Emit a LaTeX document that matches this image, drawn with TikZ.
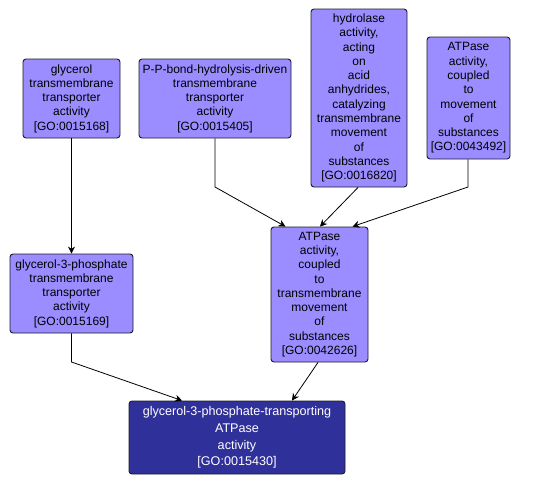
\documentclass[tikz,border=0pt]{standalone}
\usepackage{fontspec}
\setmainfont{Liberation Sans}
\usepackage{xcolor}
\usepackage{tikz}
\usetikzlibrary{arrows.meta,calc}
\definecolor{golight}{HTML}{9B8CFF}
\definecolor{godark}{HTML}{30309A}
\definecolor{goedge}{HTML}{1A1A2E}
\tikzset{
  gobox/.style={draw=goedge, fill=golight, rounded corners=3pt, line width=0.9pt, align=center,
    font=\fontsize{12}{14.3}\selectfont, inner sep=0pt, text=black},
  goboxdark/.style={gobox, fill=godark, text=white, font=\fontsize{12.6}{16.6}\selectfont},
  goarrow/.style={-{Stealth[length=7pt,width=7pt]}, line width=0.8pt, black},
}

\begin{document}
\begin{tikzpicture}[x=1pt, y=-1pt]
  \useasboundingbox (0,0) rectangle (533,485);
  % terms
  \node[gobox, minimum width=97pt, minimum height=79pt] (gtta) at (71.5,98.5)
    {glycerol\\transmembrane\\transporter\\activity\\{[GO:0015168]}};
  \node[gobox, minimum width=152pt, minimum height=79pt] (ppb) at (215,98.5)
    {P-P-bond-hydrolysis-driven\\transmembrane\\transporter\\activity\\{[GO:0015405]}};
  \node[gobox, minimum width=96pt, minimum height=178pt] (hyd) at (359,98)
    {hydrolase\\activity,\\acting\\on\\acid\\anhydrides,\\catalyzing\\transmembrane\\movement\\of\\substances\\{[GO:0016820]}};
  \node[gobox, minimum width=83pt, minimum height=122pt] (atpm) at (468.5,98)
    {ATPase\\activity,\\coupled\\to\\movement\\of\\substances\\{[GO:0043492]}};
  \node[gobox, minimum width=123pt, minimum height=79pt] (g3pt) at (71.5,293.5)
    {glycerol-3-phosphate\\transmembrane\\transporter\\activity\\{[GO:0015169]}};
  \node[gobox, minimum width=97pt, minimum height=135pt] (atpt) at (319.5,294.5)
    {ATPase\\activity,\\coupled\\to\\transmembrane\\movement\\of\\substances\\{[GO:0042626]}};
  \node[goboxdark, minimum width=216pt, minimum height=73pt] (g3pa) at (237,437.5)
    {glycerol-3-phosphate-transporting\\ATPase\\activity\\{[GO:0015430]}};
  % bends
  \coordinate (ppbend) at (215,187);
  \coordinate (atpmbend) at (468,187);
  \coordinate (g3ptbend) at (71.5,362);
  % links
  \draw[goarrow] (gtta.south) -- (g3pt.north);
  \draw[goarrow] (ppb.south) -- (ppbend) -- ([xshift=-34pt]atpt.north);
  \draw[goarrow] ([xshift=-1pt]hyd.south) -- ([xshift=0.5pt]atpt.north);
  \draw[goarrow] ([xshift=-0.5pt]atpm.south) -- (atpmbend) -- ([xshift=33pt]atpt.north);
  \draw[goarrow] (g3pt.south) -- (g3ptbend) -- ([xshift=-55pt]g3pa.north);
  \draw[goarrow] ([xshift=-1.5pt]atpt.south) -- ([xshift=55pt]g3pa.north);
\end{tikzpicture}
\end{document}
